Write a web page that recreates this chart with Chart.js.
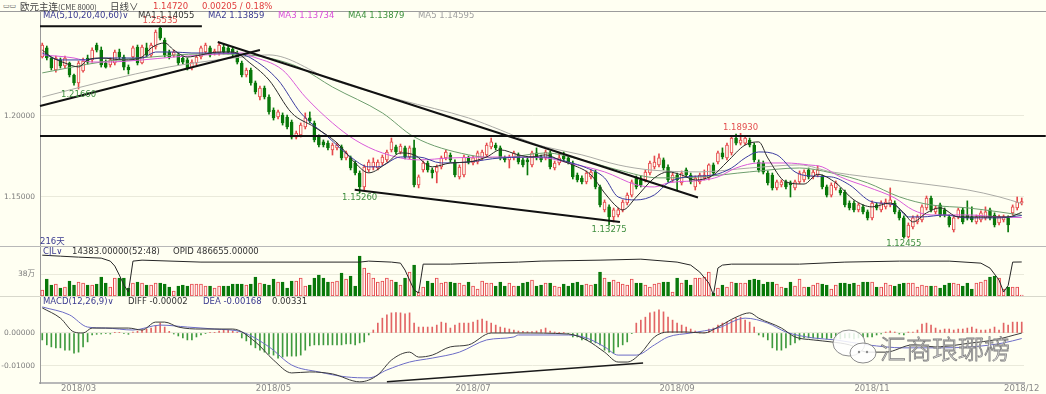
<!DOCTYPE html>
<html>
<head>
<meta charset="utf-8">
<title>欧元主连 日线</title>
<script src="https://cdn.jsdelivr.net/npm/chart.js@4.4.1/dist/chart.umd.min.js"></script>
<style>
  html, body { margin: 0; padding: 0; }
  body { width: 1046px; height: 394px; background: #FFFFF2; position: relative; overflow: hidden; font-family: "DejaVu Sans", sans-serif; }
  canvas { position: absolute; left: 0; }
  .t { position: absolute; white-space: pre; font-size: 8.5px; line-height: 10px; z-index: 5; }
  .rule { position: absolute; left: 0; width: 1046px; height: 1px; z-index: 4; }
</style>
</head>
<body>
<canvas id="priceChart" width="1046" height="235" style="top:11px"></canvas>
<canvas id="volChart" width="1046" height="49" style="top:247px"></canvas>
<canvas id="macdChart" width="1046" height="97" style="top:297px"></canvas>

<div class="rule" style="top:11px;background:#9C9C9C"></div>
<div class="rule" style="top:246px;background:#B8B8B8"></div>
<div class="rule" style="top:296px;background:#D8D8CC"></div>

<div class="t" style="left:3px;top:1px;font-size:7px;color:#555">▭▭</div>
<div class="t" style="left:20px;top:1px;font-size:9.5px;color:#444;font-family:'Noto Sans CJK SC'">欧元主连<span style="font-size:7.5px">(CME 8000)</span></div>
<div class="t" style="left:110px;top:1px;font-size:9.5px;color:#444;font-family:'Noto Sans CJK SC'">日线∨</div>
<div class="t" id="lastPrice" style="left:153px;top:1px;color:#E03C3C"></div>
<div class="t" id="lastChange" style="left:202px;top:1px;color:#E03C3C"></div>

<div class="t" style="left:43px;top:10px;color:#3A3A90">MA(5,10,20,40,60)∨</div>
<div class="t" id="ma1Txt" style="left:138px;top:10px;color:#333"></div>
<div class="t" id="ma2Txt" style="left:208px;top:10px;color:#3A3A90"></div>
<div class="t" id="ma3Txt" style="left:278px;top:10px;color:#D94FD9"></div>
<div class="t" id="ma4Txt" style="left:348px;top:10px;color:#3C903C"></div>
<div class="t" id="ma5Txt" style="left:418px;top:10px;color:#A0A0A0"></div>

<div class="t" style="left:40px;top:236px;color:#3A3A90;font-family:'DejaVu Sans','Noto Sans CJK SC'">216天</div>

<div class="t" style="left:43px;top:246px;color:#3A3A90">CJL∨</div>
<div class="t" id="cjlTxt" style="left:72px;top:246px;color:#333"></div>
<div class="t" id="opidTxt" style="left:173px;top:246px;color:#333"></div>

<div class="t" style="left:43px;top:296px;color:#3A3A90">MACD(12,26,9)∨</div>
<div class="t" id="diffTxt" style="left:128px;top:296px;color:#333"></div>
<div class="t" id="deaTxt" style="left:203px;top:296px;color:#3A3A90"></div>
<div class="t" id="histTxt" style="left:272px;top:296px;color:#333"></div>

<svg style="position:absolute;left:828px;top:326px;z-index:6" width="56" height="44">
  <ellipse cx="21" cy="17" rx="16" ry="13" fill="#FFFFFF" fill-opacity="0.85" stroke="#8C8C8C" stroke-width="1"/>
  <ellipse cx="35" cy="27" rx="13" ry="10" fill="#FFFFFF" fill-opacity="0.85" stroke="#8C8C8C" stroke-width="1"/>
  <circle cx="31" cy="26" r="1.2" fill="#8C8C8C"/><circle cx="39" cy="26" r="1.2" fill="#8C8C8C"/>
</svg>
<div class="t" style="left:880px;top:333px;font-size:26px;line-height:30px;font-family:'Noto Sans CJK SC';font-weight:300;color:rgba(255,255,255,0.85);-webkit-text-stroke:0.8px #7E7E7E;z-index:6">汇商琅琊榜</div>

<script>
// daily candles, [open, high, low, close]
const ohlc = [
  [1.2364,1.2450,1.2358,1.2438],[1.2420,1.2432,1.2346,1.2358],[1.2358,1.2364,1.2284,1.2296],[1.2284,1.2370,1.2271,1.2358],
  [1.2346,1.2358,1.2296,1.2309],[1.2309,1.2370,1.2296,1.2358],[1.2327,1.2333,1.2241,1.2253],[1.2253,1.2259,1.2191,1.2204],
  [1.2204,1.2339,1.2166,1.2327],[1.2278,1.2358,1.2271,1.2339],[1.2358,1.2376,1.2321,1.2333],[1.2346,1.2420,1.2333,1.2407],
  [1.2438,1.2450,1.2395,1.2407],[1.2407,1.2426,1.2302,1.2315],[1.2327,1.2346,1.2296,1.2302],[1.2315,1.2358,1.2302,1.2346],
  [1.2327,1.2407,1.2315,1.2395],[1.2395,1.2413,1.2352,1.2364],[1.2364,1.2376,1.2284,1.2302],[1.2302,1.2315,1.2259,1.2284],
  [1.2364,1.2432,1.2352,1.2420],[1.2426,1.2438,1.2315,1.2327],[1.2327,1.2438,1.2321,1.2426],[1.2420,1.2450,1.2364,1.2376],
  [1.2376,1.2450,1.2364,1.2438],[1.2426,1.2531,1.2413,1.2518],[1.2543,1.25535,1.2469,1.2481],[1.2469,1.2481,1.2364,1.2376],
  [1.2395,1.2407,1.2352,1.2364],[1.2376,1.2407,1.2364,1.2395],[1.2376,1.2389,1.2315,1.2327],[1.2358,1.2370,1.2321,1.2333],
  [1.2346,1.2358,1.2284,1.2296],[1.2296,1.2346,1.2284,1.2333],[1.2327,1.2376,1.2315,1.2364],[1.2364,1.2432,1.2352,1.2420],
  [1.2395,1.2450,1.2383,1.2438],[1.2420,1.2432,1.2364,1.2376],[1.2389,1.2413,1.2376,1.2401],[1.2389,1.2450,1.2376,1.2438],
  [1.2426,1.2444,1.2383,1.2395],[1.2420,1.2432,1.2383,1.2395],[1.2413,1.2426,1.2370,1.2383],[1.2389,1.2401,1.2321,1.2333],
  [1.2327,1.2339,1.2241,1.2253],[1.2253,1.2296,1.2241,1.2284],[1.2284,1.2296,1.2191,1.2204],[1.2204,1.2216,1.2136,1.2148],
  [1.2117,1.2185,1.2099,1.2173],[1.2173,1.2185,1.2105,1.2117],[1.2117,1.2130,1.2012,1.2025],[1.2037,1.2050,1.1975,1.1988],
  [1.1994,1.2037,1.1982,1.2025],[1.2006,1.2019,1.1944,1.1957],[1.1994,1.2006,1.1920,1.1932],[1.1963,1.1975,1.1858,1.1870],
  [1.1870,1.1907,1.1858,1.1895],[1.1883,1.1957,1.1870,1.1944],[1.1932,1.2019,1.1920,1.1988],[1.1988,1.2025,1.1957,1.1969],
  [1.1957,1.1969,1.1840,1.1852],[1.1870,1.1883,1.1809,1.1821],[1.1840,1.1852,1.1809,1.1821],[1.1833,1.1846,1.1790,1.1803],
  [1.1790,1.1833,1.1759,1.1821],[1.1803,1.1833,1.1790,1.1821],[1.1809,1.1821,1.1729,1.1741],[1.1741,1.1784,1.1729,1.1772],
  [1.1741,1.1753,1.1667,1.1679],[1.1710,1.1722,1.1636,1.1648],[1.1648,1.1661,1.1526,1.1562],[1.1562,1.1698,1.1543,1.1685],
  [1.1667,1.1729,1.1654,1.1716],[1.1685,1.1741,1.1667,1.1716],[1.1679,1.1729,1.1667,1.1716],[1.1710,1.1759,1.1698,1.1747],
  [1.1729,1.1790,1.1716,1.1778],[1.1790,1.1864,1.1778,1.1840],[1.1809,1.1821,1.1766,1.1778],[1.1778,1.1827,1.1766,1.1815],
  [1.1803,1.1815,1.1735,1.1747],[1.1747,1.1815,1.1735,1.1803],[1.1803,1.1852,1.1562,1.1574],[1.1574,1.1636,1.1556,1.1624],
  [1.1667,1.1722,1.1654,1.1710],[1.1710,1.1722,1.1654,1.1667],[1.1667,1.1679,1.1617,1.1648],[1.1654,1.1698,1.1587,1.1685],
  [1.1685,1.1753,1.1673,1.1741],[1.1741,1.1790,1.1729,1.1778],[1.1759,1.1772,1.1716,1.1729],[1.1716,1.1729,1.1624,1.1636],
  [1.1624,1.1698,1.1611,1.1685],[1.1636,1.1759,1.1624,1.1747],[1.1741,1.1753,1.1704,1.1716],[1.1710,1.1753,1.1698,1.1741],
  [1.1716,1.1784,1.1704,1.1772],[1.1741,1.1790,1.1729,1.1778],[1.1759,1.1833,1.1747,1.1821],[1.1809,1.1864,1.1797,1.1840],
  [1.1821,1.1833,1.1790,1.1803],[1.1803,1.1815,1.1729,1.1741],[1.1741,1.1753,1.1716,1.1729],[1.1729,1.1759,1.1679,1.1747],
  [1.1741,1.1784,1.1729,1.1772],[1.1759,1.1772,1.1704,1.1716],[1.1729,1.1741,1.1685,1.1698],[1.1729,1.1741,1.1636,1.1716],
  [1.1698,1.1784,1.1685,1.1772],[1.1772,1.1803,1.1729,1.1741],[1.1747,1.1759,1.1716,1.1729],[1.1741,1.1790,1.1729,1.1778],
  [1.1772,1.1784,1.1673,1.1685],[1.1679,1.1722,1.1667,1.1710],[1.1710,1.1772,1.1698,1.1741],[1.1753,1.1778,1.1722,1.1735],
  [1.1741,1.1753,1.1704,1.1716],[1.1710,1.1722,1.1611,1.1624],[1.1636,1.1648,1.1593,1.1605],[1.1617,1.1630,1.1581,1.1593],
  [1.1593,1.1661,1.1581,1.1648],[1.1624,1.1667,1.1611,1.1654],[1.1654,1.1667,1.1550,1.1562],[1.1562,1.1574,1.1439,1.1451],
  [1.1420,1.1482,1.1408,1.1469],[1.1439,1.1451,1.13275,1.1377],[1.1377,1.1432,1.1346,1.1420],[1.1389,1.1432,1.1377,1.1420],
  [1.1420,1.1482,1.1408,1.1469],[1.1463,1.1525,1.1451,1.1512],[1.1512,1.1605,1.1500,1.1593],[1.1617,1.1630,1.1550,1.1562],
  [1.1605,1.1630,1.1562,1.1574],[1.1605,1.1667,1.1593,1.1654],[1.1648,1.1722,1.1636,1.1710],[1.1685,1.1753,1.1673,1.1716],
  [1.1698,1.1766,1.1685,1.1741],[1.1729,1.1741,1.1667,1.1679],[1.1685,1.1698,1.1593,1.1605],[1.1605,1.1648,1.1593,1.1636],
  [1.1636,1.1648,1.1543,1.1605],[1.1587,1.1661,1.1574,1.1648],[1.1667,1.1679,1.1624,1.1636],[1.1636,1.1648,1.1581,1.1593],
  [1.1562,1.1630,1.1543,1.1617],[1.1593,1.1648,1.1581,1.1636],[1.1617,1.1667,1.1605,1.1636],[1.1617,1.1704,1.1605,1.1698],
  [1.1698,1.1710,1.1636,1.1648],[1.1716,1.1784,1.1704,1.1772],[1.1772,1.1803,1.1735,1.1747],[1.1741,1.1833,1.1729,1.1821],
  [1.1772,1.1877,1.1759,1.1864],[1.1864,1.1889,1.1821,1.1833],[1.1833,1.1893,1.1821,1.1852],[1.1833,1.1877,1.1821,1.1864],
  [1.1852,1.1864,1.1809,1.1821],[1.1821,1.1833,1.1716,1.1729],[1.1716,1.1729,1.1654,1.1667],[1.1710,1.1722,1.1642,1.1654],
  [1.1648,1.1661,1.1574,1.1587],[1.1636,1.1648,1.1543,1.1556],[1.1556,1.1605,1.1543,1.1593],[1.1574,1.1605,1.1562,1.1593],
  [1.1593,1.1605,1.1550,1.1562],[1.1587,1.1599,1.1500,1.1574],[1.1556,1.1605,1.1543,1.1593],[1.1593,1.1661,1.1581,1.1648],
  [1.1605,1.1667,1.1593,1.1654],[1.1667,1.1679,1.1611,1.1624],[1.1624,1.1667,1.1611,1.1654],[1.1636,1.1692,1.1624,1.1667],
  [1.1624,1.1636,1.1550,1.1562],[1.1562,1.1574,1.1500,1.1512],[1.1512,1.1587,1.1500,1.1574],[1.1556,1.1599,1.1543,1.1587],
  [1.1543,1.1556,1.1512,1.1525],[1.1531,1.1543,1.1439,1.1451],[1.1463,1.1476,1.1420,1.1432],[1.1463,1.1476,1.1408,1.1420],
  [1.1420,1.1463,1.1408,1.1451],[1.1439,1.1451,1.1396,1.1408],[1.1408,1.1420,1.1358,1.1371],[1.1371,1.1476,1.1358,1.1463],
  [1.1451,1.1463,1.1420,1.1432],[1.1420,1.1476,1.1408,1.1463],[1.1439,1.1488,1.1426,1.1469],[1.1451,1.1556,1.1439,1.1482],
  [1.1463,1.1476,1.1396,1.1408],[1.1408,1.1420,1.1358,1.1371],[1.1371,1.1383,1.12455,1.1253],[1.1253,1.1340,1.1247,1.1327],
  [1.1315,1.1383,1.1303,1.1371],[1.1346,1.1389,1.1334,1.1377],[1.1358,1.1451,1.1346,1.1439],[1.1432,1.1506,1.1420,1.1494],
  [1.1494,1.1506,1.1408,1.1420],[1.1408,1.1445,1.1396,1.1432],[1.1451,1.1463,1.1377,1.1389],[1.1420,1.1432,1.1377,1.1389],
  [1.1377,1.1389,1.1315,1.1327],[1.1297,1.1383,1.1284,1.1371],[1.1377,1.1432,1.1365,1.1420],[1.1420,1.1432,1.1334,1.1346],
  [1.1389,1.1476,1.1358,1.1371],[1.1377,1.1439,1.1346,1.1358],[1.1346,1.1389,1.1334,1.1377],[1.1358,1.1414,1.1346,1.1402],
  [1.1371,1.1439,1.1358,1.1408],[1.1420,1.1432,1.1358,1.1371],[1.1389,1.1402,1.1315,1.1327],[1.1340,1.1389,1.1327,1.1377],
  [1.1358,1.1389,1.1346,1.1377],[1.1371,1.1383,1.1284,1.1327],[1.1402,1.1451,1.1389,1.1439],[1.1432,1.1500,1.1420,1.1469],
  [1.1463,1.1494,1.1451,1.1472]
];

// moving averages, sampled as [day, value]
const ma5Pts = [[0,1.2407],[2,1.2364],[5,1.2327],[8,1.2303],[10,1.2346],[13,1.2358],[18,1.2346],[22,1.2364],[24,1.2420],[27,1.2451],[29,1.2407],[32,1.2364],[35,1.2377],[39,1.2395],[42,1.2395],[44,1.2370],[45,1.2346],[50,1.2222],[55,1.2019],[60,1.1932],[65,1.1834],[69,1.1710],[72,1.1649],[76,1.1710],[79,1.1772],[82,1.1760],[86,1.1686],[90,1.1710],[94,1.1716],[98,1.1747],[101,1.1791],[105,1.1760],[108,1.1747],[111,1.1760],[114,1.1729],[117,1.1698],[121,1.1636],[124,1.1525],[127,1.1433],[128,1.1420],[131,1.1500],[135,1.1618],[138,1.1655],[141,1.1636],[144,1.1605],[148,1.1636],[151,1.1716],[155,1.1821],[158,1.1840],[160,1.1741],[164,1.1593],[168,1.1580],[171,1.1640],[175,1.1587],[179,1.1482],[183,1.1439],[187,1.1463],[190,1.1402],[192,1.1346],[195,1.1402],[198,1.1433],[202,1.1377],[208,1.1377],[213,1.1377],[216,1.14055]];
const ma10Pts = [[0,1.2389],[4,1.2346],[8,1.2346],[14,1.2358],[22,1.2358],[25,1.2395],[29,1.2395],[33,1.2389],[40,1.2389],[44,1.2380],[46,1.2358],[52,1.2222],[57,1.2019],[63,1.1871],[68,1.1747],[72,1.1686],[74,1.1686],[79,1.1747],[83,1.1747],[88,1.1710],[94,1.1716],[101,1.1741],[111,1.1747],[116,1.1716],[120,1.1680],[124,1.1618],[127,1.1500],[131,1.1482],[135,1.1513],[138,1.1587],[142,1.1624],[148,1.1636],[152,1.1679],[155,1.1741],[158,1.1778],[162,1.1760],[166,1.1655],[169,1.1630],[174,1.1624],[178,1.1575],[183,1.1470],[188,1.1451],[191,1.1377],[194,1.1377],[199,1.1389],[204,1.1371],[211,1.1371],[216,1.13859]];
const ma20Pts = [[0,1.2377],[7,1.2358],[11,1.2333],[14,1.2333],[22,1.2346],[29,1.2364],[36,1.2377],[44,1.2389],[46,1.2370],[53,1.2284],[58,1.2118],[64,1.1957],[69,1.1852],[75,1.1772],[83,1.1729],[90,1.1741],[101,1.1747],[111,1.1741],[116,1.1710],[124,1.1655],[131,1.1575],[135,1.1562],[138,1.1587],[146,1.1605],[149,1.1624],[153,1.1679],[158,1.1710],[164,1.1710],[169,1.1698],[172,1.1686],[176,1.1624],[182,1.1562],[188,1.1494],[192,1.1420],[196,1.1389],[204,1.1389],[211,1.1377],[216,1.13734]];
const ma40Pts = [[0,1.2266],[13,1.2333],[24,1.2364],[35,1.2383],[44,1.2380],[50,1.2358],[57,1.2296],[64,1.2179],[75,1.2019],[82,1.1871],[94,1.1760],[101,1.1741],[111,1.1772],[119,1.1729],[127,1.1667],[136,1.1618],[145,1.1624],[156,1.1655],[167,1.1679],[174,1.1649],[182,1.1587],[189,1.1501],[196,1.1451],[204,1.1433],[211,1.1408],[216,1.13879]];
const ma60Pts = [[0,1.2117],[13,1.2210],[28,1.2303],[35,1.2333],[44,1.2364],[50,1.2377],[64,1.2222],[79,1.2099],[94,1.1988],[101,1.1914],[108,1.1834],[111,1.1809],[119,1.1760],[127,1.1698],[134,1.1667],[145,1.1655],[156,1.1679],[167,1.1698],[174,1.1655],[182,1.1624],[196,1.1575],[204,1.1544],[211,1.1501],[216,1.14595]];

// hand-drawn trend lines, [day, price] ends
const trendLines = [
  [[-0.5, 1.25535], [35.2, 1.25535]],
  [[-0.5, 1.2062], [48.0, 1.2407]],
  [[38.7, 1.2457], [144.6, 1.1497]],
  [[-0.5, 1.1877], [221.3, 1.1877]],
  [[68.9, 1.1544], [127.4, 1.1346]]
];
const macdTrend = [[76.0, -0.0148], [132.5, -0.0091]];

// marked highs and lows: [day, 'high' | 'low']
const priceMarks = [[26, 'high'], [8, 'low'], [70, 'low'], [125, 'low'], [154, 'high'], [190, 'low']];

// volume (contracts) and open interest samples
const volume = [
  104000,294000,190000,207000,138000,155000,259000,190000,242000,225000,
  190000,190000,207000,328000,225000,155000,311000,311000,311000,138000,
  225000,242000,225000,190000,190000,225000,225000,207000,155000,86000,
  173000,190000,173000,207000,207000,207000,173000,173000,138000,173000,
  173000,173000,207000,207000,207000,190000,207000,328000,225000,207000,
  190000,294000,242000,242000,138000,259000,259000,311000,173000,190000,
  311000,363000,311000,242000,242000,259000,397000,294000,345000,173000,
  691000,484000,397000,311000,242000,259000,311000,276000,242000,190000,
  311000,415000,535000,69000,155000,259000,225000,311000,225000,242000,
  242000,225000,225000,190000,242000,173000,121000,259000,225000,225000,
  173000,242000,173000,225000,173000,
  173000,225000,242000,276000,173000,190000,225000,225000,173000,155000,
  207000,173000,225000,242000,190000,207000,190000,207000,415000,311000,
  242000,276000,242000,207000,190000,294000,225000,225000,190000,155000,
  207000,225000,242000,242000,69000,311000,225000,276000,190000,311000,
  311000,328000,415000,52000,138000,190000,155000,242000,225000,225000,
  225000,276000,294000,276000,207000,242000,242000,207000,155000,138000,
  242000,173000,294000,155000,155000,190000,225000,207000,190000,121000,
  190000,225000,225000,207000,225000,190000,242000,242000,242000,155000,
  155000,225000,190000,173000,207000,225000,225000,225000,155000,190000,
  173000,173000,173000,138000,190000,225000,225000,207000,173000,225000,
  121000,225000,242000,276000,328000,345000,311000,121000,155000,155000,
  155000,14383
];
const openInterest = [[0,584000],[4,570000],[8,556000],[13,542000],[15,499000],[16,428000],[17,299000],[18,157000],[19,57000],[20,499000],[22,513000],[35,485000],[50,485000],[70,485000],[72,499000],[77,485000],[79,470000],[80,371000],[81,228000],[82,86000],[83,43000],[84,456000],[90,456000],[96,470000],[105,485000],[110,499000],[123,513000],[132,527000],[140,485000],[143,442000],[145,342000],[147,185000],[148,15000],[149,400000],[150,442000],[152,456000],[167,456000],[177,485000],[189,499000],[200,499000],[207,470000],[209,399000],[211,228000],[212,57000],[213,150000],[214,485000],[216,486655]];

// MACD(12,26,9)
const macdHist = [
  -0.0021,-0.0036,-0.0042,-0.0045,-0.0045,-0.0052,-0.0052,-0.0061,-0.0058,-0.0042,-0.0027,-0.0006,
  -0.0004,-0.0003,-0.0002,-0.0003,0.0001,0.0002,-0.0002,-0.0004,0.0003,
  0.0006,0.0009,0.0012,0.0015,0.0021,0.0030,0.0018,0.0005,
  -0.0003,-0.0009,-0.0015,-0.0021,-0.0021,-0.0012,-0.0006,-0.0002,0.0001,0.0002,
  0.0006,0.0008,0.0009,0.0006,0.0002,
  -0.0015,-0.0024,-0.0036,-0.0045,-0.0052,-0.0058,-0.0064,-0.0067,-0.0076,-0.0073,-0.0070,-0.0070,-0.0070,-0.0067,-0.0052,
  -0.0039,-0.0036,-0.0036,-0.0036,-0.0036,-0.0036,-0.0036,-0.0036,-0.0033,-0.0033,-0.0036,-0.0030,-0.0027,-0.0006,
  0.0009,0.0030,0.0045,0.0055,0.0061,0.0062,0.0061,0.0058,0.0061,0.0030,0.0018,0.0018,0.0018,0.0018,0.0024,0.0033,
  0.0030,0.0015,0.0024,0.0030,0.0030,0.0030,0.0033,0.0039,0.0042,0.0036,0.0030,0.0024,0.0018,0.0015,0.0012,0.0009,
  0.0006,0.0005,0.0004,0.0004,0.0006,0.0010,0.0015,0.0006,0.0003,0.0002,0.0001,-0.0002,
  -0.0012,-0.0012,-0.0021,-0.0021,-0.0027,-0.0030,-0.0036,-0.0052,-0.0058,-0.0061,-0.0042,-0.0036,-0.0027,
  -0.0002,0.0030,0.0039,0.0048,0.0061,0.0064,0.0070,0.0064,0.0048,0.0039,0.0030,0.0024,0.0018,0.0012,0.0006,0.0000,0.0002,
  0.0012,0.0015,0.0024,0.0030,0.0033,0.0039,0.0045,0.0048,0.0039,0.0033,0.0018,
  -0.0006,-0.0012,-0.0021,-0.0045,-0.0052,-0.0052,-0.0045,-0.0036,-0.0030,-0.0021,-0.0015,-0.0015,-0.0015,
  -0.0018,-0.0015,-0.0018,-0.0015,-0.0015,-0.0018,-0.0015,-0.0015,-0.0018,-0.0015,-0.0015,-0.0012,-0.0012,
  -0.0006,-0.0003,0.0003,0.0006,0.0003,-0.0003,-0.0006,0.0003,
  0.0003,0.0009,0.0027,0.0030,0.0024,0.0015,0.0009,0.0012,0.0012,0.0009,0.0012,0.0012,0.0015,0.0018,0.0012,
  0.0009,0.0009,0.0012,0.0018,0.0009,0.0030,0.0024,0.0033,0.0033,0.00331
];
const diffPts = [[0,0.0076],[4,0.0045],[7,0.0003],[9,0.0000],[11,0.0015],[14,0.0015],[19,0.0015],[22,0.0009],[25,0.0033],[27,0.0033],[30,0.0018],[35,0.0012],[39,0.0012],[42,0.0012],[47,-0.0027],[51,-0.0082],[55,-0.0121],[59,-0.0118],[64,-0.0124],[70,-0.0148],[74,-0.0127],[77,-0.0082],[81,-0.0058],[83,-0.0073],[86,-0.0067],[90,-0.0042],[94,-0.0036],[99,0.0000],[102,0.0000],[105,0.0000],[116,-0.0003],[120,-0.0021],[124,-0.0058],[127,-0.0088],[129,-0.0088],[132,-0.0061],[135,-0.0012],[138,0.0003],[142,0.0003],[146,0.0000],[149,0.0018],[153,0.0048],[156,0.0061],[158,0.0045],[163,0.0015],[166,-0.0012],[170,-0.0021],[174,-0.0027],[178,-0.0036],[182,-0.0058],[186,-0.0058],[192,-0.0036],[197,-0.0042],[205,-0.0030],[210,-0.0021],[216,-0.00002]];
const deaPts = [[0,0.0079],[6,0.0055],[10,0.0018],[14,0.0015],[20,0.0009],[26,0.0024],[32,0.0018],[38,0.0012],[44,0.0003],[50,-0.0042],[55,-0.0097],[61,-0.0118],[67,-0.0133],[72,-0.0136],[76,-0.0112],[81,-0.0088],[86,-0.0076],[92,-0.0058],[98,-0.0021],[104,-0.0012],[105,-0.0006],[116,-0.0006],[120,-0.0015],[124,-0.0042],[127,-0.0067],[131,-0.0067],[135,-0.0036],[138,-0.0012],[143,0.0000],[149,0.0015],[155,0.0045],[160,0.0030],[164,0.0003],[170,-0.0015],[175,-0.0021],[182,-0.0036],[190,-0.0045],[197,-0.0045],[205,-0.0042],[212,-0.0030],[216,-0.00168]];

// axis ticks
const monthTicks = [8, 51, 95, 140, 183, 216];
const monthLabels = ['2018/03', '2018/05', '2018/07', '2018/09', '2018/11', '2018/12'];
const priceTicks = [1.15, 1.20];
const volTicks = [380000];
const macdTicks = [-0.01, 0];

const lastChange = '0.00205 / 0.18%';

// ---------------------------------------------------------------
const BG = '#FFFFF2';
const RED = '#E5484B';
const GREEN = '#08780A';
const N = ohlc.length;
const up = ohlc.map(([o, h, l, c]) => c >= o);
const FONT = "'DejaVu Sans', 'Noto Sans CJK SC', sans-serif";
Chart.defaults.font.family = FONT;

const pts = arr => arr.map(([x, y]) => ({ x, y }));

const xAxis = extra => Object.assign({
  type: 'linear', min: -0.5, max: N - 0.5, offset: false, display: false,
  grid: { offset: false, display: false }
}, extra);

const yAxis = (min, max, ticks, fmt) => ({
  min, max, position: 'left',
  afterFit: s => { s.width = 40; s.paddingTop = 0; s.paddingBottom = 0; },
  afterBuildTicks: s => { s.ticks = ticks.map(v => ({ value: v })); },
  ticks: { callback: fmt, color: '#7C7C7C', font: { size: 7.5 }, padding: 5 },
  grid: { color: '#EAEADB', drawTicks: false },
  border: { color: '#9A9A9A', width: 1 }
});

const baseOptions = scales => ({
  responsive: false,
  animation: false,
  events: [],
  layout: { padding: { left: 0, right: 22, top: 0, bottom: 0 } },
  plugins: { legend: { display: false }, tooltip: { enabled: false } },
  scales
});

const lineSet = (data, color, width, order, extra) => Object.assign({
  type: 'line', data: pts(data), borderColor: color, borderWidth: width,
  pointRadius: 0, cubicInterpolationMode: 'monotone', order
}, extra);

// labels for marked highs / lows
const markLabels = {
  id: 'markLabels',
  afterDatasetsDraw(chart) {
    const { ctx, scales: { x, y } } = chart;
    ctx.save();
    ctx.font = '8.5px ' + FONT;
    ctx.textAlign = 'center';
    priceMarks.forEach(([i, kind]) => {
      const v = kind === 'high' ? ohlc[i][1] : ohlc[i][2];
      const px = x.getPixelForValue(i);
      const py = y.getPixelForValue(v);
      ctx.fillStyle = kind === 'high' ? '#E34F4F' : '#3F8E3F';
      ctx.textBaseline = kind === 'high' ? 'bottom' : 'top';
      ctx.fillText(v.toFixed(5), px, kind === 'high' ? py - 1 : py + 1);
    });
    ctx.restore();
  }
};

// price panel
new Chart(document.getElementById('priceChart'), {
  type: 'bar',
  data: {
    datasets: [
      ...trendLines.map(l => lineSet(l, '#111111', 2, 0, { cubicInterpolationMode: 'default', tension: 0, clip: false })),
      lineSet(ma5Pts, '#2B2B2B', 1, 1),
      lineSet(ma10Pts, '#3C3CA0', 1, 1),
      lineSet(ma20Pts, '#D95BD9', 1, 1),
      lineSet(ma40Pts, '#6E9E6E', 1, 1),
      lineSet(ma60Pts, '#ABABA6', 1, 1),
      {
        data: ohlc.map(([o, h, l, c], i) => ({ x: i, y: [Math.min(o, c), Math.max(o, c)] })),
        backgroundColor: up.map(u => u ? BG : GREEN),
        borderColor: up.map(u => u ? RED : GREEN),
        borderWidth: 1, borderSkipped: false, minBarLength: 1,
        grouped: false, barThickness: 3, maxBarThickness: 3, order: 2
      },
      {
        data: ohlc.map(([o, h, l, c], i) => ({ x: i, y: [l, h] })),
        backgroundColor: up.map(u => u ? RED : GREEN),
        borderWidth: 0, grouped: false, barThickness: 1, maxBarThickness: 1, order: 3
      }
    ]
  },
  options: baseOptions({
    x: xAxis(),
    y: yAxis(1.11975, 1.26481, priceTicks, v => v.toFixed(5))
  }),
  plugins: [markLabels]
});

// volume panel
new Chart(document.getElementById('volChart'), {
  type: 'bar',
  data: {
    datasets: [
      lineSet(openInterest, '#262626', 1, 0, { yAxisID: 'yOI', cubicInterpolationMode: 'default', tension: 0 }),
      {
        data: volume.map((v, i) => ({ x: i, y: v })),
        backgroundColor: up.map(u => u ? '#FFF4F2' : GREEN),
        borderColor: up.map(u => u ? RED : GREEN),
        borderWidth: 1, borderSkipped: false,
        grouped: false, barThickness: 3, maxBarThickness: 3, order: 1
      }
    ]
  },
  options: baseOptions({
    x: xAxis(),
    y: yAxis(0, 846364, volTicks, v => Math.round(v / 10000) + '万'),
    yOI: { display: false, min: 0, max: 701000 }
  })
});

// MACD panel
new Chart(document.getElementById('macdChart'), {
  type: 'bar',
  data: {
    datasets: [
      lineSet(macdTrend, '#1A1A1A', 1.5, 0, { cubicInterpolationMode: 'default', tension: 0 }),
      lineSet(diffPts, '#3A3A3A', 1, 1),
      lineSet(deaPts, '#6C6CC6', 1, 1),
      {
        data: macdHist.map((v, i) => ({ x: i, y: v })),
        backgroundColor: macdHist.map(v => v >= 0 ? '#E26464' : '#3E9A3E'),
        borderWidth: 0, grouped: false, barThickness: 1, maxBarThickness: 1, order: 2
      }
    ]
  },
  options: baseOptions({
    x: xAxis({
      display: true,
      afterFit: s => { s.height = 11; s.paddingLeft = 0; s.paddingRight = 0; },
      afterBuildTicks: s => { s.ticks = monthTicks.map(v => ({ value: v })); },
      ticks: { callback: (v, i) => monthLabels[i], color: '#8A8A8A', font: { size: 8.5 }, padding: 1, autoSkip: false, maxRotation: 0 },
      grid: { display: false, drawTicks: false, offset: false },
      border: { color: '#B8B8B8', width: 2 }
    }),
    y: yAxis(-0.015152, 0.010909, macdTicks, v => v.toFixed(5))
  })
});

// header values read from the series
const last = arr => arr[arr.length - 1][1];
document.getElementById('lastPrice').textContent = ohlc[N - 1][3].toFixed(5);
document.getElementById('lastChange').textContent = lastChange;
document.getElementById('ma1Txt').textContent = 'MA1 ' + last(ma5Pts).toFixed(5);
document.getElementById('ma2Txt').textContent = 'MA2 ' + last(ma10Pts).toFixed(5);
document.getElementById('ma3Txt').textContent = 'MA3 ' + last(ma20Pts).toFixed(5);
document.getElementById('ma4Txt').textContent = 'MA4 ' + last(ma40Pts).toFixed(5);
document.getElementById('ma5Txt').textContent = 'MA5 ' + last(ma60Pts).toFixed(5);
document.getElementById('cjlTxt').textContent = volume[N - 1].toFixed(5) + '(52:48)';
document.getElementById('opidTxt').textContent = 'OPID ' + last(openInterest).toFixed(5);
document.getElementById('diffTxt').textContent = 'DIFF ' + last(diffPts).toFixed(5);
document.getElementById('deaTxt').textContent = 'DEA ' + last(deaPts).toFixed(5);
document.getElementById('histTxt').textContent = macdHist[N - 1].toFixed(5);
</script>
</body>
</html>
